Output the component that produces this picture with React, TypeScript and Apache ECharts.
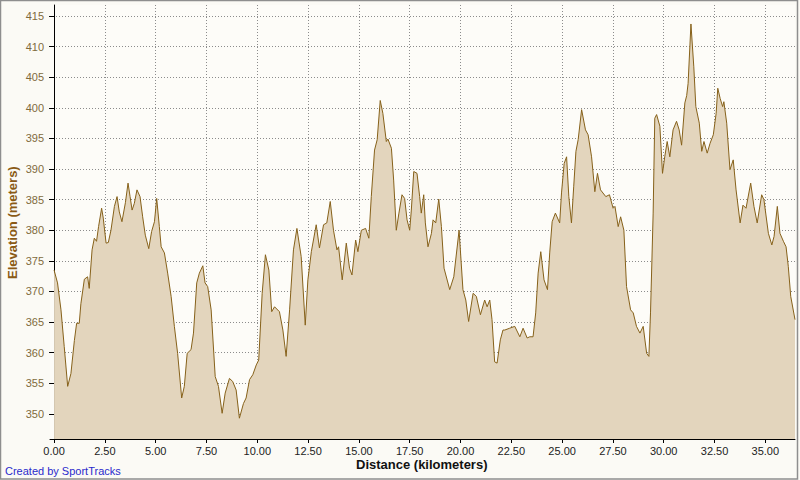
import React, { useEffect, useRef } from "react";
import * as echarts from "echarts";

const distanceKm: number[] = [
  0, 0.17, 0.34, 0.5, 0.67, 0.83, 1.0, 1.11, 1.24, 1.32, 1.49, 1.65, 1.73, 1.87, 1.98, 2.09, 2.19, 2.34, 2.42, 2.56,
  2.67, 2.8, 2.97, 3.1, 3.21, 3.34, 3.51, 3.64, 3.74, 3.84, 3.95, 4.08, 4.23, 4.36, 4.49, 4.66, 4.8, 4.94, 5.05, 5.18,
  5.27, 5.43, 5.59, 5.76, 5.92, 6.08, 6.28, 6.41, 6.55, 6.74, 6.86, 7.02, 7.15, 7.32, 7.43, 7.56, 7.73, 7.93, 8.09, 8.27,
  8.42, 8.63, 8.79, 8.96, 9.12, 9.32, 9.45, 9.62, 9.78, 9.95, 10.07, 10.24, 10.4, 10.57, 10.71, 10.85, 11.09, 11.26, 11.42, 11.59,
  11.78, 11.95, 12.16, 12.36, 12.49, 12.66, 12.9, 13.06, 13.26, 13.42, 13.59, 13.75, 13.92, 14.0, 14.18, 14.38, 14.54, 14.66, 14.84, 14.95,
  15.12, 15.33, 15.49, 15.61, 15.77, 15.9, 16.05, 16.18, 16.35, 16.43, 16.6, 16.71, 16.84, 16.97, 17.12, 17.25, 17.37, 17.5, 17.58, 17.7,
  17.86, 17.99, 18.07, 18.19, 18.27, 18.4, 18.57, 18.65, 18.78, 18.93, 19.06, 19.19, 19.47, 19.67, 19.93, 20.12, 20.26, 20.4, 20.62, 20.78,
  20.98, 21.19, 21.31, 21.44, 21.55, 21.68, 21.8, 21.96, 22.09, 22.18, 22.42, 22.67, 22.92, 23.08, 23.28, 23.41, 23.57, 23.7, 23.82, 23.95,
  24.11, 24.28, 24.39, 24.51, 24.67, 24.88, 24.97, 25.1, 25.22, 25.33, 25.46, 25.57, 25.68, 25.79, 25.96, 26.15, 26.28, 26.45, 26.61, 26.74,
  26.89, 27.15, 27.33, 27.51, 27.6, 27.76, 27.88, 28.04, 28.17, 28.37, 28.5, 28.66, 28.83, 28.99, 29.16, 29.27, 29.35, 29.48, 29.56, 29.65,
  29.81, 29.94, 30.05, 30.17, 30.3, 30.46, 30.63, 30.76, 30.88, 31.04, 31.13, 31.2, 31.34, 31.48, 31.58, 31.75, 31.87, 31.98, 32.14, 32.28,
  32.44, 32.58, 32.66, 32.78, 32.9, 32.96, 33.1, 33.26, 33.42, 33.56, 33.76, 33.9, 34.05, 34.28, 34.44, 34.6, 34.82, 34.93, 35.15, 35.32,
  35.43, 35.59, 35.72, 35.89, 36.02, 36.13, 36.25, 36.46,
];

const elevationM: number[] = [
  373.5, 371.4, 367, 361, 354.5, 356.6, 362, 364.8, 364.8, 368, 372, 372.4, 370.5, 376.8, 378.7, 378.2, 380.6, 383.6, 382, 377.9,
  378, 380, 383.9, 385.5, 383, 381.4, 384.5, 387.7, 385.5, 383.3, 384.4, 386.6, 385.5, 382.2, 379.2, 377, 379.8, 381.4, 385.2, 380.6,
  377.3, 376.3, 373, 369.2, 364.3, 359.9, 352.6, 354.5, 359.9, 360.5, 363.2, 371.4, 373, 374.2, 371.4, 370.8, 367, 356.1, 354.5, 350.1,
  353.4, 355.8, 355.3, 353.9, 349.3, 351.7, 352.6, 355.6, 356.4, 358, 358.8, 369.7, 376, 373.5, 366.7, 367.5, 366.7, 363.7, 359.4, 367,
  376.8, 380.3, 375.7, 364.5, 371.9, 376.5, 380.9, 377.1, 380.9, 381.2, 384.7, 380, 376.8, 377.3, 371.9, 377.9, 373.8, 372.7, 378.4, 376.5,
  380, 380.3, 378.7, 385.5, 393.1, 394.8, 401.2, 399.1, 394.5, 394.9, 393.4, 388.2, 380, 382.8, 385.8, 385.2, 381.7, 380, 383.3, 389.6,
  389.3, 385.5, 382.8, 385.8, 381.2, 377.3, 379.5, 381.7, 381.2, 385.1, 380.6, 373.8, 370.3, 372.4, 380, 370.3, 368.6, 365.1, 369.7, 369.2,
  366.2, 368.6, 367.5, 368.6, 365.4, 358.5, 358.3, 362.1, 363.7, 363.7, 364, 364.3, 362.6, 364, 362.4, 362.6, 362.6, 366.5, 373, 376.5,
  371.9, 370.3, 376.3, 381.4, 382.8, 381.2, 386.1, 390.9, 392, 385.5, 381.2, 387.1, 392.9, 394.8, 399.7, 396.4, 395.6, 392, 386.3, 389.3,
  386.6, 385.5, 385.8, 383.6, 383.9, 380.6, 382.2, 380, 370.8, 367, 366.5, 364.3, 363.2, 364.3, 359.9, 359.4, 366.5, 382.8, 398.3, 398.9,
  397, 389.3, 392, 394.5, 392, 396.4, 397.8, 396.4, 393.9, 400.8, 402, 404, 413.7, 406.7, 400.2, 397.5, 392.9, 394.5, 392.6, 394.2,
  395.6, 399.1, 403.2, 401.5, 400.2, 401, 397.5, 389.9, 391.5, 386.6, 381.2, 384.1, 383.6, 387.7, 383.9, 381.2, 385.8, 385, 379.5, 377.6,
  379, 383.9, 379.5, 378.2, 377.3, 374.1, 369.2, 365.4,
];

const xTickValues: number[] = [0, 2.5, 5, 7.5, 10, 12.5, 15, 17.5, 20, 22.5, 25, 27.5, 30, 32.5, 35];
const yTickValues: number[] = [350, 355, 360, 365, 370, 375, 380, 385, 390, 395, 400, 405, 410, 415];

const xTitle = "Distance (kilometers)";
const yTitle = "Elevation (meters)";
const creditText = "Created by SportTracks";

export default function App() {
  const ref = useRef<HTMLDivElement>(null);

  useEffect(() => {
    if (!ref.current) return;
    const chart = echarts.init(ref.current, null, { renderer: "svg" });
    const data = distanceKm.map((d, i) => [d, elevationM[i]]);
    const gridLine = { show: true, lineStyle: { color: "#8c8c8c", type: [1, 2] as any, width: 1 } };
    chart.setOption({
      animation: false,
      backgroundColor: "#fbfaf5",
      grid: { left: 50, right: 5, top: 5, bottom: 41, containLabel: false, show: true, backgroundColor: "#fdfcf8", borderWidth: 0 },
      xAxis: {
        type: "value",
        min: -0.2,
        max: 36.46,
        axisLine: { show: true, onZero: false, lineStyle: { color: "#000", width: 1 } },
        axisTick: { show: true, length: 4, inside: false, customValues: xTickValues, lineStyle: { color: "#000" } },
        axisLabel: {
          customValues: xTickValues,
          formatter: (v: number) => v.toFixed(2),
          color: "#222",
          fontFamily: "Liberation Sans",
          fontSize: 11,
          margin: 6,
        },
        splitLine: gridLine,
      },
      yAxis: {
        type: "value",
        min: 345.9,
        max: 416.8,
        axisLine: { show: true, lineStyle: { color: "#000", width: 1 } },
        axisTick: { show: true, length: 5, customValues: yTickValues, lineStyle: { color: "#000" } },
        axisLabel: {
          customValues: yTickValues,
          color: "#7f6a3c",
          fontFamily: "Liberation Sans",
          fontSize: 11,
          margin: 6,
        },
        splitLine: gridLine,
      },
      series: [
        {
          type: "line",
          data,
          showSymbol: false,
          symbol: "none",
          lineStyle: { color: "#86611a", width: 1 },
          areaStyle: { color: "#e3d5bd", opacity: 1, origin: "start" },
          z: 3,
        },
      ],
      graphic: [
        {
          type: "text",
          left: 356,
          top: 458,
          style: { text: xTitle, fill: "#111", font: "bold 13px 'Liberation Sans'" },
        },
        {
          type: "text",
          x: 6,
          y: 279,
          rotation: Math.PI / 2,
          style: { text: yTitle, fill: "#8a5a16", font: "bold 13px 'Liberation Sans'" },
        },
        {
          type: "text",
          left: 5,
          top: 465,
          style: { text: creditText, fill: "#2a2acc", font: "11px 'Liberation Sans'" },
        },
        {
          type: "rect",
          shape: { x: 0.5, y: 0.5, width: 797, height: 478.5 },
          style: { fill: "none", stroke: "#8e8e8e", lineWidth: 1.5 },
          silent: true,
        },
      ],
    });
    return () => chart.dispose();
  }, []);

  return (
    <div
      ref={ref}
      style={{ position: "fixed", left: 0, top: 0, width: 800, height: 480 }}
    />
  );
}
